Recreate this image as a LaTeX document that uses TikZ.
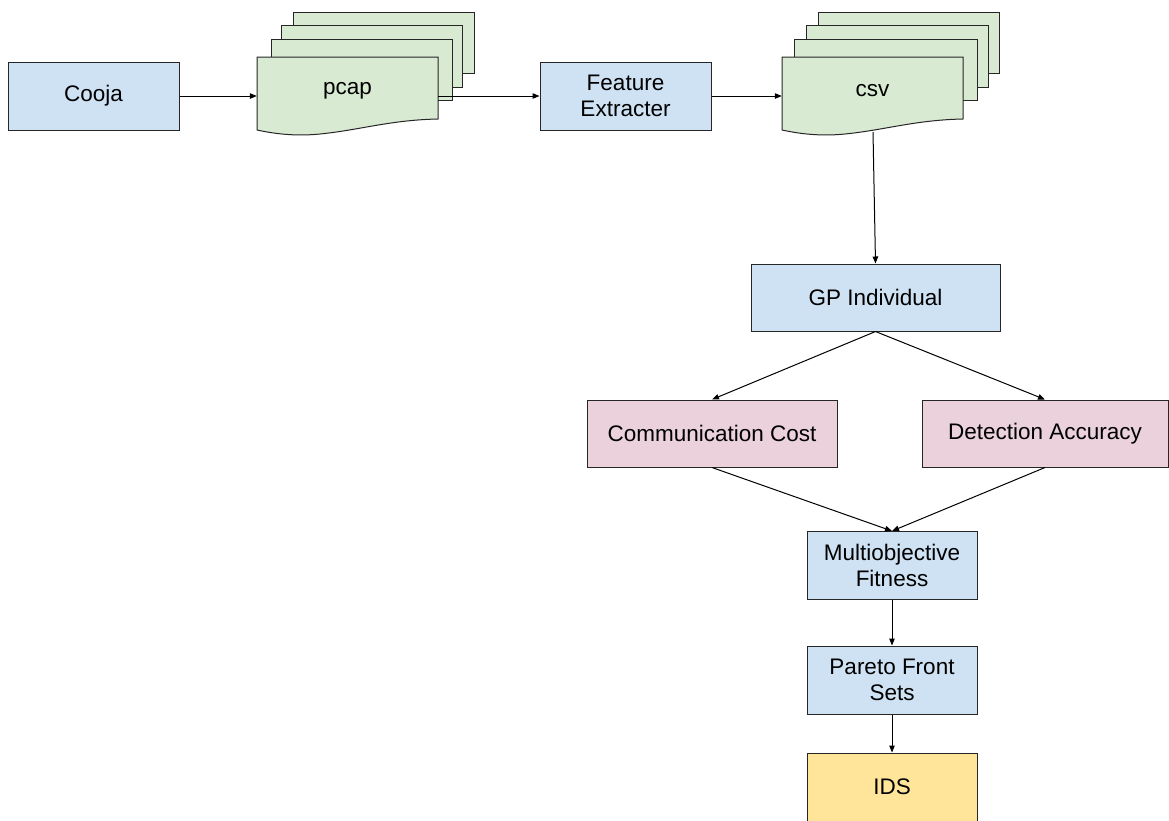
\documentclass[tikz,border=0pt]{standalone}
\usepackage{fontspec}
\setmainfont{Liberation Sans}
\usetikzlibrary{arrows.meta}
\definecolor{bluefill}{HTML}{CFE2F3}
\definecolor{greenfill}{HTML}{D9EAD3}
\definecolor{pinkfill}{HTML}{EAD1DC}
\definecolor{yellowfill}{HTML}{FFE599}
\definecolor{edge}{HTML}{262626}
\begin{document}
\begin{tikzpicture}[x=1pt,y=-1pt,
  every node/.style={font=\fontsize{22.5}{26.5}\selectfont, align=center, inner sep=0pt},
  procbox/.style={draw=edge, line width=1pt, fill=bluefill},
  metricbox/.style={draw=edge, line width=1pt, fill=pinkfill},
  outbox/.style={draw=edge, line width=1pt, fill=yellowfill},
  sheet/.style={draw=edge, line width=1pt, fill=greenfill},
  conn/.style={draw=black, line width=1pt, -{Triangle[length=7pt,width=5.5pt]}}
]
\useasboundingbox (0,0) rectangle (1169,820);
\fill[white] (0,0) rectangle (1169,820);

% pcap stack
\draw[sheet] (293,12) rectangle (474,73);
\draw[sheet] (281,25) rectangle (462,87);
\draw[sheet] (271,39) rectangle (452,100);
\draw[sheet] (257,57) -- (438,57) -- (438,119)
  .. controls (390,120) and (360,130) .. (320,134)
  .. controls (300,136) and (280,135) .. (257,130) -- cycle;
\node[minimum width=181pt, minimum height=62pt] (pcap) at (347.5,91) {pcap};

% csv stack
\draw[sheet] (818,12) rectangle (999,73);
\draw[sheet] (806,25) rectangle (988,87);
\draw[sheet] (794,39) rectangle (977,100);
\draw[sheet] (782,57) -- (963,57) -- (963,119)
  .. controls (915,120) and (885,130) .. (845,134)
  .. controls (825,136) and (805,135) .. (782,130) -- cycle;
\node[minimum width=181pt, minimum height=62pt] (csv) at (872.5,91) {csv};
\coordinate (csvB) at (873,132);

% boxes
\node[procbox, minimum width=171pt, minimum height=68pt] (cooja) at (93.5,96) {Cooja};
\node[procbox, minimum width=171pt, minimum height=68pt] (feat) at (625.5,96) {Feature\\Extracter};
\node[procbox, minimum width=249pt, minimum height=67pt] (gp) at (875.5,297.5) {GP Individual};
\node[metricbox, minimum width=250pt, minimum height=67pt] (cc) at (712,433.5) {Communication Cost};
\node[metricbox, minimum width=246pt, minimum height=67pt] (da) at (1045,433.5) {Detection Accuracy};
\node[procbox, minimum width=170pt, minimum height=68pt] (mof) at (892,565.5) {Multiobjective\\Fitness};
\node[procbox, minimum width=170pt, minimum height=68pt] (pfs) at (892,680) {Pareto Front\\Sets};
\node[outbox, minimum width=170pt, minimum height=68pt] (ids) at (892,787) {IDS};

% connectors
\draw[conn] (cooja.east) -- (cooja.east -| pcap.west);
\draw[conn] (feat.west -| pcap.east) -- (feat.west);
\draw[conn] (feat.east) -- (feat.east -| csv.west);
\draw[conn] (csvB) -- (gp.north);
\draw[conn] (gp.south) -- (cc.north);
\draw[conn] (gp.south) -- (da.north);
\draw[conn] (cc.south) -- (mof.north);
\draw[conn] (da.south) -- (mof.north);
\draw[conn] (mof.south) -- (pfs.north);
\draw[conn] (pfs.south) -- (ids.north);
\end{tikzpicture}
\end{document}
